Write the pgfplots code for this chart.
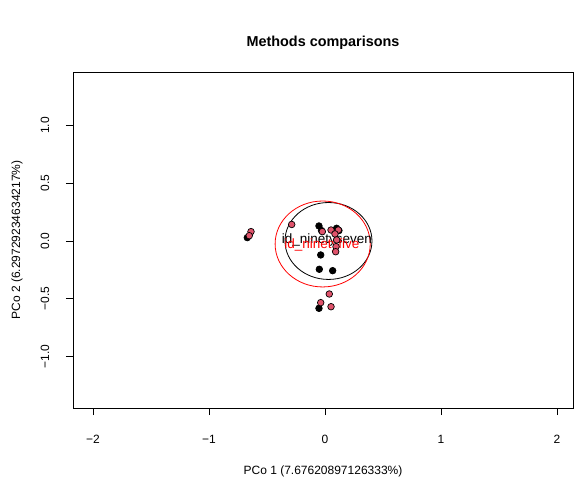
\documentclass[border=0pt]{standalone}
\usepackage{pgfplots}
\pgfplotsset{compat=1.18}
\usepackage{fontspec}
\setmainfont{Liberation Sans}
\definecolor{rpink}{HTML}{DF536B}
\begin{document}
\begin{tikzpicture}
\begin{axis}[
  at={(73bp,71bp)}, anchor=south west,
  scale only axis, width=500bp, height=336bp,
  xmin=-2.1724, xmax=2.138, ymin=-1.446, ymax=1.463,
  axis line style={line width=0.8bp},
  tick style={line width=0.8bp, black},
  tick align=outside, major tick length=7bp,
  xtick pos=bottom, ytick pos=left,
  xtick={-2,-1,0,1,2}, xticklabels={−2,−1,0,1,2},
  ytick={-1,-0.5,0,0.5,1}, yticklabels={−1.0,−0.5,0.0,0.5,1.0},
  tick label style={font=\fontsize{12bp}{14bp}\selectfont},
  xticklabel style={anchor=center, yshift=-24bp},
  yticklabel style={rotate=90, anchor=center, yshift=21bp},
  title={Methods comparisons},
  title style={font=\bfseries\fontsize{14.4bp}{17bp}\selectfont, at={(axis description cs:0.5,1)}, anchor=center, yshift=23bp},
  xlabel={PCo 1 (7.67620897126333\%)},
  ylabel={PCo 2 (6.29729234634217\%)},
  label style={font=\fontsize{12bp}{14bp}\selectfont},
  xlabel style={at={(axis description cs:0.5,0)}, anchor=center, yshift=-63bp},
  ylabel style={at={(axis description cs:0,0.5)}, anchor=center, rotate=0, yshift=56bp},
  clip=false,
]
\draw[black, line width=0.8bp] (axis cs:0.03,0) ellipse [x radius=0.375, y radius=0.333];
\draw[red, line width=0.8bp] (axis cs:-0.02,-0.026) ellipse [x radius=0.41, y radius=0.372];
\node[black, font=\fontsize{13.5bp}{16bp}\selectfont, inner sep=0pt] at (axis cs:0.017,0.009) {id\_ninetyseven};
\node[red, font=\fontsize{13.5bp}{16bp}\selectfont, inner sep=0pt] at (axis cs:-0.026,-0.035) {id\_ninetyfive};
\addplot[only marks, mark=*, mark size=3.3bp, mark options={fill=black, draw=black, line width=0.7bp}] coordinates {
(-0.670,0.029) (-0.052,0.130) (-0.037,-0.121) (-0.049,-0.245) (0.066,-0.257) (-0.052,-0.583)
(0.10,0.11) (0.12,0.09) (-0.03,0.09)
};
\addplot[only marks, mark=*, mark size=3.3bp, mark options={fill=rpink, draw=black, line width=0.7bp}] coordinates {
(-0.638,0.081) (-0.653,0.046) (-0.287,0.143) (-0.023,0.081) (0.052,0.095) (0.115,0.095)
(0.086,0.061) (0.101,0.009) (0.095,-0.049) (0.092,-0.093) (0.037,-0.459) (-0.037,-0.534) (0.052,-0.569)
};
\end{axis}
\pgfresetboundingbox
\path (0,0) rectangle (574bp,479bp);
\end{tikzpicture}
\end{document}
